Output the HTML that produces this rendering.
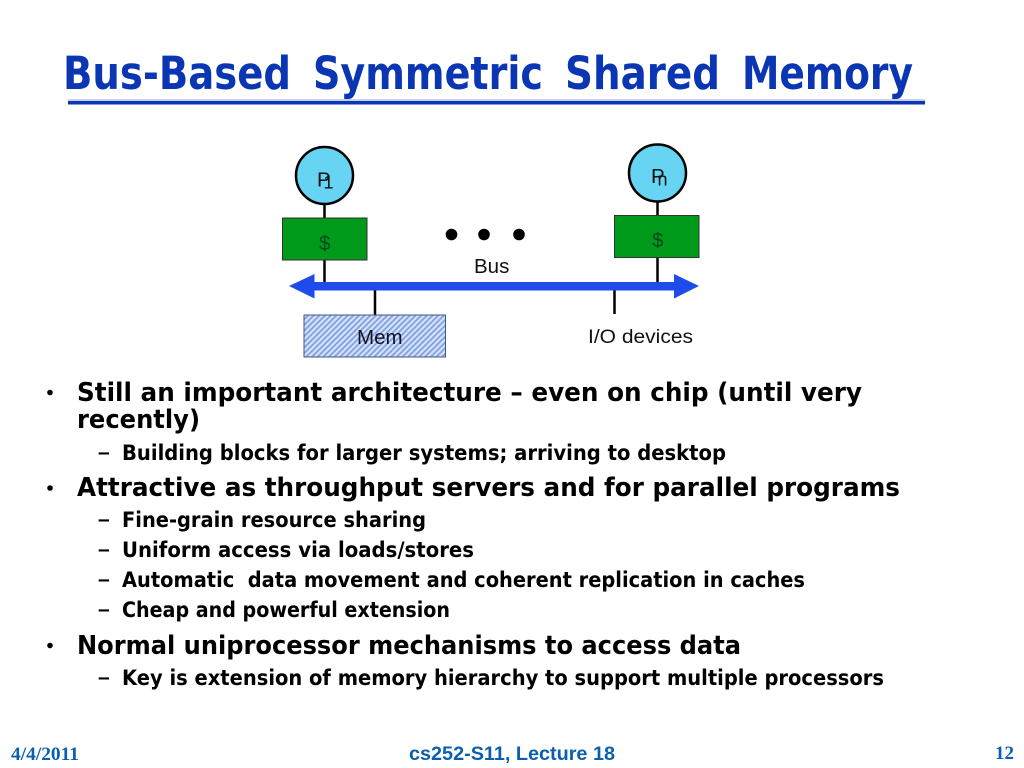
<!DOCTYPE html>
<html><head><meta charset="utf-8"><style>html,body{margin:0;padding:0;background:#fff}svg{display:block}
.h{font-family:"DejaVu Sans",sans-serif;font-weight:bold;fill:#000}
.s{font-family:"Liberation Sans",sans-serif;fill:#111}
</style></head><body>
<svg width="1024" height="768" viewBox="0 0 1024 768" xmlns="http://www.w3.org/2000/svg">
<defs><pattern id="hatch" width="4" height="4" patternUnits="userSpaceOnUse" patternTransform="rotate(-45)">
<rect width="4" height="4" fill="#d6e2f8"/><rect width="4" height="1.800" fill="#7ea0e4"/></pattern></defs>
<g font-size="45">
<text class="h" x="63" y="89" style="fill:#0a36b4" textLength="228" lengthAdjust="spacingAndGlyphs">Bus-Based</text>
<text class="h" x="313" y="89" style="fill:#0a36b4" textLength="230" lengthAdjust="spacingAndGlyphs">Symmetric</text>
<text class="h" x="565" y="89" style="fill:#0a36b4" textLength="155" lengthAdjust="spacingAndGlyphs">Shared</text>
<text class="h" x="742" y="89" style="fill:#0a36b4" textLength="171" lengthAdjust="spacingAndGlyphs">Memory</text>
</g>
<rect x="68" y="99.500" width="857" height="1" fill="#8fa0dc"/>
<rect x="68" y="101" width="857" height="3.500" fill="#0a36b4"/>

<!-- diagram -->
<g stroke="#000" stroke-width="2.500">
<line x1="324.500" y1="204" x2="324.500" y2="218"/>
<line x1="324.500" y1="260" x2="324.500" y2="286"/>
<line x1="657.500" y1="201" x2="657.500" y2="216"/>
<line x1="657.500" y1="257" x2="657.500" y2="286"/>
<line x1="375" y1="287" x2="375" y2="315"/>
<line x1="614.500" y1="286" x2="614.500" y2="314"/>
</g>
<circle cx="324.500" cy="175.500" r="28.500" fill="#66d4f2" stroke="#000" stroke-width="2.500"/>
<circle cx="657.500" cy="173" r="28.500" fill="#66d4f2" stroke="#000" stroke-width="2.500"/>
<rect x="282.500" y="218" width="84.500" height="42" fill="#009a1a" stroke="#333" stroke-width="1"/>
<rect x="614.500" y="215.500" width="84.500" height="42" fill="#009a1a" stroke="#333" stroke-width="1"/>
<circle cx="451.500" cy="234.500" r="5.800" fill="#000"/>
<circle cx="484" cy="234.500" r="5.800" fill="#000"/>
<circle cx="519" cy="234.500" r="5.800" fill="#000"/>
<rect x="312" y="282" width="364" height="8.500" fill="#1f4bea"/>
<polygon points="289,286 314.500,274 314.500,298.500" fill="#1f4bea"/>
<polygon points="699,286 674,274 674,298.500" fill="#1f4bea"/>
<rect x="304" y="315" width="141.500" height="42" fill="url(#hatch)" stroke="#44557a" stroke-width="1"/>
<g font-size="20.500">
<text class="s" x="317" y="186.500">P</text>
<text class="s" x="323.500" y="188.500" font-size="18">1</text>
<text class="s" x="651" y="183">P</text>
<text class="s" x="657.500" y="185.500" font-size="18">n</text>
<text class="s" x="319" y="250" style="fill:#04481f">$</text>
<text class="s" x="652" y="247" style="fill:#04481f">$</text>
<text class="s" x="474" y="273">Bus</text>
<text class="s" x="357" y="344" style="fill:#112">Mem</text>
<text class="s" x="588" y="343" font-size="19.500" textLength="105" lengthAdjust="spacingAndGlyphs">I/O devices</text>
</g>

<!-- bullets -->
<circle cx="50" cy="392.500" r="2.800" fill="#000"/>
<circle cx="50" cy="488" r="2.800" fill="#000"/>
<circle cx="50" cy="645.500" r="2.800" fill="#000"/>
<g font-family="Liberation Sans, sans-serif" font-size="21" font-weight="bold">
<text x="98" y="459">–</text><text x="98" y="526">–</text>
<text x="98" y="556">–</text><text x="98" y="586">–</text>
<text x="98" y="616">–</text><text x="98" y="684">–</text>
</g>
<g font-size="26">
<text class="h" x="77" y="401" textLength="785" lengthAdjust="spacingAndGlyphs">Still an important architecture – even on chip (until very</text>
<text class="h" x="77" y="428" textLength="123" lengthAdjust="spacingAndGlyphs">recently)</text>
<text class="h" x="77" y="496" textLength="823" lengthAdjust="spacingAndGlyphs">Attractive as throughput servers and for parallel programs</text>
<text class="h" x="77" y="654" textLength="664" lengthAdjust="spacingAndGlyphs">Normal uniprocessor mechanisms to access data</text>
</g>
<g font-size="21.500">
<text class="h" x="122" y="460" textLength="604" lengthAdjust="spacingAndGlyphs">Building blocks for larger systems; arriving to desktop</text>
<text class="h" x="122" y="527" textLength="304" lengthAdjust="spacingAndGlyphs">Fine-grain resource sharing</text>
<text class="h" x="122" y="557" textLength="352" lengthAdjust="spacingAndGlyphs">Uniform access via loads/stores</text>
<text class="h" x="122" y="587" textLength="683" lengthAdjust="spacingAndGlyphs" xml:space="preserve">Automatic  data movement and coherent replication in caches</text>
<text class="h" x="122" y="617" textLength="328" lengthAdjust="spacingAndGlyphs">Cheap and powerful extension</text>
<text class="h" x="122" y="685" textLength="762" lengthAdjust="spacingAndGlyphs">Key is extension of memory hierarchy to support multiple processors</text>
</g>

<!-- footer -->
<text x="11" y="760" font-family="Liberation Serif, serif" font-weight="bold" font-size="19" fill="#0a5fae" textLength="68" lengthAdjust="spacingAndGlyphs">4/4/2011</text>
<text x="409" y="760" font-family="Liberation Sans, sans-serif" font-weight="bold" font-size="19" fill="#0a5fae" textLength="206" lengthAdjust="spacingAndGlyphs">cs252-S11, Lecture 18</text>
<text x="995" y="759" font-family="Liberation Serif, serif" font-weight="bold" font-size="19" fill="#0a5fae" textLength="19" lengthAdjust="spacingAndGlyphs">12</text>
</svg>
</body></html>
